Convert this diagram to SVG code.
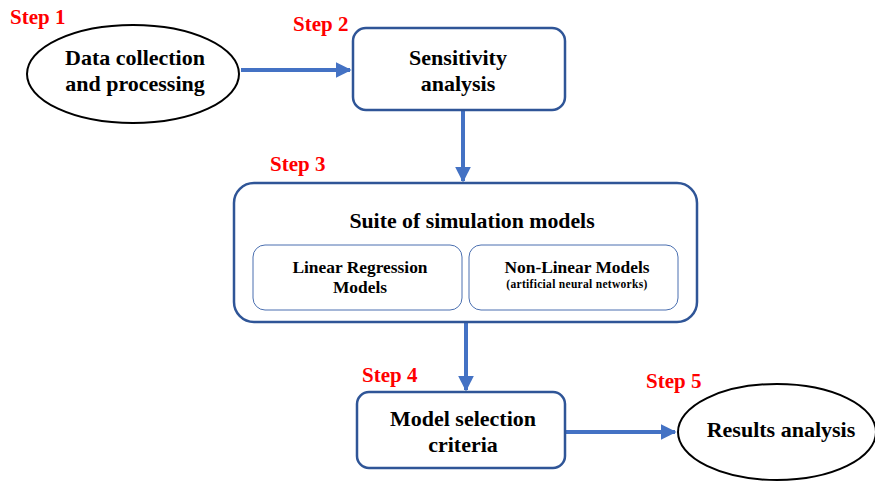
<svg xmlns="http://www.w3.org/2000/svg" width="875" height="488" viewBox="0 0 875 488">
<defs>
<style>
.t{font-family:"Liberation Serif","Times New Roman",serif;font-weight:bold;fill:#000;text-anchor:middle}
.s{font-family:"Liberation Serif","Times New Roman",serif;font-weight:bold;fill:#ff0000;font-size:21px}
.box{fill:#fff;stroke:#2f5597;stroke-width:2.5}
.inner{fill:#fff;stroke:#4a6fb0;stroke-width:1}
.ell{fill:#fff;stroke:#000;stroke-width:2}
.con{stroke:#4472c4;stroke-width:4;fill:none}
</style>
<marker id="ah" viewBox="0 0 10 10" refX="9" refY="5" markerWidth="4" markerHeight="4" markerUnits="strokeWidth" orient="auto">
<path d="M0,0 L10,5 L0,10 z" fill="#4472c4"/>
</marker>
</defs>
<rect width="875" height="488" fill="#fff"/>
<g id="connectors">
<line class="con" x1="241" y1="70" x2="350" y2="70" marker-end="url(#ah)"/>
<line class="con" x1="463" y1="110" x2="463" y2="181" marker-end="url(#ah)"/>
<line class="con" x1="466" y1="322" x2="466" y2="390" marker-end="url(#ah)"/>
<line class="con" x1="565" y1="432" x2="675" y2="432" marker-end="url(#ah)"/>
</g>
<g id="step1">
<text class="s" x="10" y="24">Step 1</text>
<ellipse class="ell" cx="133" cy="74" rx="106" ry="49"/>
<text class="t" x="135" y="65" font-size="22">Data collection</text>
<text class="t" x="135" y="91" font-size="22">and processing</text>
</g>
<g id="step2">
<text class="s" x="293" y="31">Step 2</text>
<rect class="box" x="353" y="28" width="212" height="82" rx="13"/>
<text class="t" x="458" y="65" font-size="22">Sensitivity</text>
<text class="t" x="458" y="91" font-size="22">analysis</text>
</g>
<g id="step3">
<text class="s" x="270" y="171">Step 3</text>
<rect class="box" x="234" y="183" width="463" height="139" rx="20"/>
<text class="t" x="472" y="228" font-size="21.8">Suite of simulation models</text>
<g id="linear">
<rect class="inner" x="253" y="245" width="209" height="65" rx="12"/>
<text class="t" x="360" y="273" font-size="17.4">Linear Regression</text>
<text class="t" x="360" y="293" font-size="17.4">Models</text>
</g>
<g id="nonlinear">
<rect class="inner" x="469" y="245" width="209" height="65" rx="12"/>
<text class="t" x="577" y="273" font-size="17.4">Non-Linear Models</text>
<text class="t" x="577" y="288" font-size="11.5" letter-spacing="0.3">(artificial neural networks)</text>
</g>
</g>
<g id="step4">
<text class="s" x="362" y="382">Step 4</text>
<rect class="box" x="357" y="392" width="208" height="76" rx="12"/>
<text class="t" x="463" y="426" font-size="22">Model selection</text>
<text class="t" x="463" y="452" font-size="22">criteria</text>
</g>
<g id="step5">
<text class="s" x="646" y="388">Step 5</text>
<ellipse class="ell" cx="777" cy="432" rx="99" ry="48"/>
<text class="t" x="781" y="437" font-size="22">Results analysis</text>
</g>
</svg>
